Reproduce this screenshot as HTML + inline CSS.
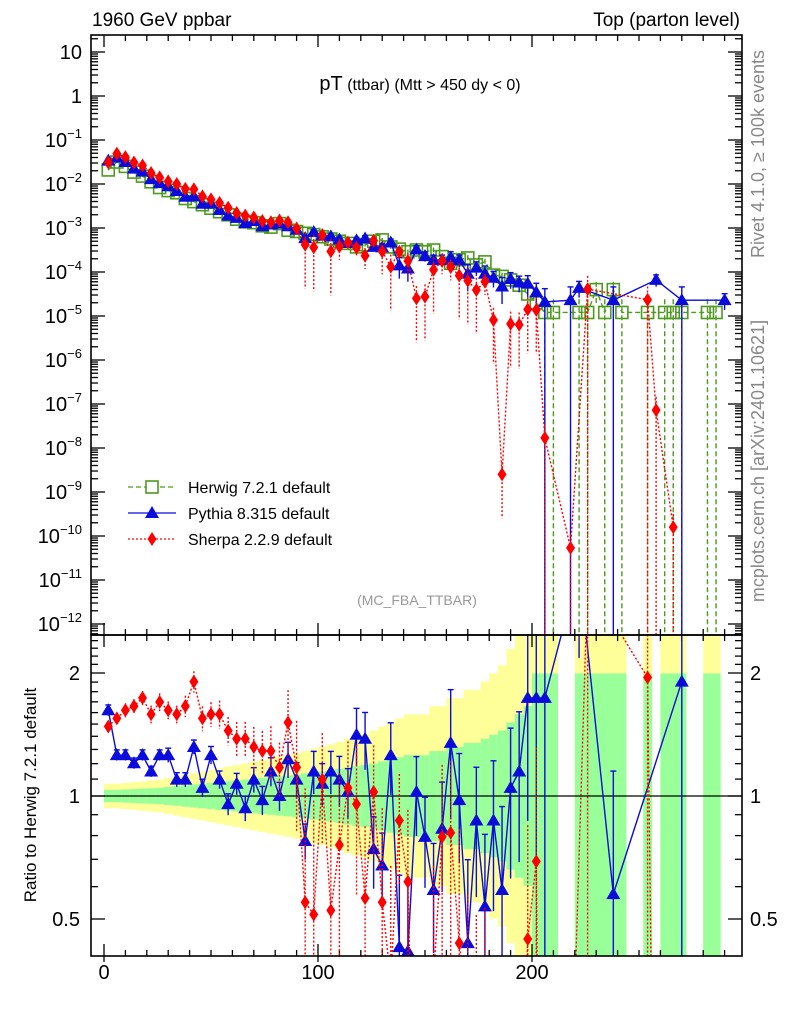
<!DOCTYPE html>
<html><head><meta charset="utf-8"><style>
html,body{margin:0;padding:0;background:#fff;width:786px;height:1024px;overflow:hidden;}
svg{display:block;font-family:"Liberation Sans",Arial,sans-serif;}
</style></head><body>
<svg id="chart" width="786" height="1024" viewBox="0 0 786 1024" xmlns="http://www.w3.org/2000/svg">
<defs>
<clipPath id="cm"><rect x="91" y="35" width="651" height="600"/></clipPath>
<clipPath id="cr"><rect x="91" y="635" width="651" height="321"/></clipPath>
</defs>
<text x="92" y="26" font-size="19">1960 GeV ppbar</text>
<text x="740" y="26" font-size="19" text-anchor="end">Top (parton level)</text>
<text x="420" y="90" text-anchor="middle"><tspan font-size="20">pT</tspan><tspan font-size="16"> (ttbar) (Mtt &gt; 450 dy &lt; 0)</tspan></text>
<text x="417" y="605" font-size="14" fill="#999" text-anchor="middle">(MC_FBA_TTBAR)</text>
<text transform="translate(764,154) rotate(-90)" font-size="18" fill="#888" text-anchor="middle">Rivet 4.1.0, ≥ 100k events</text>
<text transform="translate(764,461) rotate(-90)" font-size="18" fill="#888" text-anchor="middle">mcplots.cern.ch [arXiv:2401.10621]</text>
<text transform="translate(36,795) rotate(-90)" font-size="17" text-anchor="middle">Ratio to Herwig 7.2.1 default</text>
<g id="g-bands" clip-path="url(#cr)"></g>
<g id="g-ticks"></g>
<g id="g-main" clip-path="url(#cm)"></g>
<g id="g-ratio" clip-path="url(#cr)"></g>
<rect x="91" y="35" width="651" height="600" fill="none" stroke="#000" stroke-width="1.6"/>
<rect x="91" y="635" width="651" height="321" fill="none" stroke="#000" stroke-width="1.6"/>
<g id="g-labels"></g>
<g>
 <g>
  <line x1="128" y1="487" x2="176" y2="487" stroke="#4d9a1f" stroke-width="1.3" stroke-dasharray="5,3"/>
  <rect x="146" y="481" width="12" height="12" fill="#fff" stroke="#4d9a1f" stroke-width="1.6"/>
  <text x="188" y="493" font-size="16">Herwig 7.2.1 default</text>
 </g>
 <g>
  <line x1="128" y1="513" x2="176" y2="513" stroke="#0b0bdc" stroke-width="1.3"/>
  <polygon points="152,506 145,518 159,518" fill="#0b0bdc"/>
  <text x="188" y="519" font-size="16">Pythia 8.315 default</text>
 </g>
 <g>
  <line x1="128" y1="539" x2="176" y2="539" stroke="#f00" stroke-width="1.3" stroke-dasharray="2,2"/>
  <polygon points="152,532 156.5,539 152,546 147.5,539" fill="#f00"/>
  <text x="188" y="545" font-size="16">Sherpa 2.2.9 default</text>
 </g>
</g>
</svg>
<script>
// ---- data (log10 of dσ/dpT; null = empty bin) ----
const binCenters = [2,6,10,14,18,22,26,30,34,38,42,46,50,54,58,62,66,70,74,78,82,86,90,94,98,102,106,110,114,118,122,126,130,134,138,142,146,150,154,158,162,166,170,174,178,182,186,190,194,198,202,206,210,214,218,222,226,230,234,238,242,246,250,254,258,262,266,270,274,278,282,286,290];
const herwigLog = [-1.68,-1.5,-1.6,-1.73,-1.82,-1.95,-2.08,-2.15,-2.2,-2.33,-2.4,-2.47,-2.55,-2.63,-2.7,-2.8,-2.86,-2.88,-2.95,-2.98,-2.9,-3.05,-3.08,-3.12,-3.15,-3.2,-3.25,-3.3,-3.35,-3.43,-3.38,-3.3,-3.27,-3.43,-3.48,-3.54,-3.5,-3.54,-3.5,-3.65,-3.8,-3.72,-3.68,-3.84,-3.77,-4.07,-4.1,-4.18,-4.3,-4.5,-4.7,-4.92,-4.92,null,null,-4.92,-4.92,-4.4,-4.92,-4.4,-4.92,null,null,-4.92,null,-4.92,-4.92,-4.92,null,null,-4.92,-4.92,null];
const pythiaLog = [-1.47,-1.4,-1.5,-1.65,-1.72,-1.89,-1.98,-2.05,-2.16,-2.29,-2.28,-2.45,-2.45,-2.59,-2.72,-2.77,-2.89,-2.84,-2.96,-2.92,-2.9,-2.96,-3.04,-3.23,-3.09,-3.17,-3.19,-3.26,-3.34,-3.28,-3.24,-3.43,-3.44,-3.33,-3.85,-3.92,-3.49,-3.64,-3.73,-3.73,-3.67,-3.73,-4.04,-3.9,-4.04,-4.13,-4.33,-4.16,-4.24,-4.26,-4.46,-4.68,null,null,-4.64,-4.36,null,null,null,-4.64,null,null,null,null,-4.18,null,null,-4.64,null,null,null,null,-4.64];
const sherpaLog = [-1.51,-1.31,-1.39,-1.51,-1.58,-1.75,-1.85,-1.94,-2.0,-2.11,-2.12,-2.28,-2.35,-2.43,-2.54,-2.66,-2.72,-2.76,-2.84,-2.87,-2.83,-2.87,-3.01,-3.38,-3.44,-3.16,-3.53,-3.42,-3.33,-3.45,-3.63,-3.29,-3.53,-3.88,-3.54,-3.75,-4.6,-4.56,-3.95,-3.75,-3.89,-4.08,-4.2,-4.41,-4.22,-5.09,-8.6,-5.18,-5.2,-4.85,-4.86,-7.77,null,null,-10.27,null,-4.39,null,null,null,null,null,null,-4.63,-7.14,null,-9.8,null,null,null,null,null,null];
const relErrH = [.02,.02,.02,.02,.02,.02,.02,.03,.03,.03,.03,.03,.04,.04,.04,.04,.05,.05,.05,.05,.05,.06,.06,.06,.07,.07,.07,.08,.08,.09,.09,.1,.1,.1,.12,.12,.12,.12,.14,.14,.15,.15,.16,.16,.18,.2,.22,.25,.3,.4,.6,1,1,0,0,1,1,.5,1,.5,1,0,0,1,0,1,1,1,0,0,1,1,0];
const relErrP = [.03,.03,.03,.03,.03,.03,.03,.04,.04,.04,.04,.05,.05,.05,.06,.06,.07,.07,.08,.08,.08,.1,.1,.1,.12,.12,.12,.14,.14,.16,.16,.2,.2,.2,.5,.5,.22,.25,.3,.3,.35,.3,.6,.35,.5,.4,.6,.4,.4,.5,.6,1,0,0,1,.4,0,0,0,1,0,0,0,0,.3,0,0,1,0,0,0,0,.4];
const relErrS = [.03,.03,.04,.04,.04,.05,.05,.05,.05,.06,.06,.07,.07,.08,.08,.1,.1,.12,.12,.15,.15,.2,.3,.9,.9,.3,.9,.5,.3,.4,.5,.3,.7,.9,.3,.5,.9,.9,.9,.5,.5,.9,.9,.9,.5,.9,.9,.9,.9,.9,.9,1,0,0,1,0,1,0,0,0,0,0,0,1,1,0,1,0,0,0,0,0,0];
// herwig uncertainty bands (log10 half-widths, up / down)
const bandGreenUp = [.015,.015,.016,.017,.018,.019,.02,.022,.024,.026,.028,.03,.032,.034,.036,.038,.04,.042,.044,.046,.048,.05,.052,.055,.058,.06,.063,.066,.07,.073,.076,.08,.085,.09,.095,.1,.1,.1,.11,.11,.12,.12,.13,.13,.14,.15,.16,.18,.2,.22,.3,.3,.3,0,0,.3,.3,.3,.3,.3,.3,0,0,.3,0,.3,.3,.3,0,0,.3,.3,0];
const bandGreenDown = [.015,.015,.016,.017,.018,.019,.02,.022,.024,.026,.028,.03,.032,.034,.036,.038,.04,.042,.044,.046,.048,.05,.052,.055,.058,.06,.063,.066,.07,.073,.076,.08,.085,.09,.095,.1,.1,.1,.11,.11,.12,.12,.13,.13,.14,.15,.16,.18,.2,.22,.6,.6,.6,0,0,.6,.6,.6,.6,.6,.6,0,0,.6,0,.6,.6,.6,0,0,.6,.6,0];
const bandYellow = [.03,.03,.032,.034,.036,.038,.04,.044,.048,.052,.056,.06,.064,.068,.072,.076,.08,.084,.088,.092,.096,.1,.104,.11,.116,.12,.126,.132,.14,.146,.152,.16,.17,.18,.19,.2,.2,.2,.22,.22,.24,.24,.26,.26,.28,.3,.32,.36,.4,.44,.6,.6,.6,0,0,.6,.6,.6,.6,.6,.6,0,0,.6,0,.6,.6,.6,0,0,.6,.6,0];
const xTicks = [0,100,200];
const mainTickExps = [1,0,-1,-2,-3,-4,-5,-6,-7,-8,-9,-10,-11,-12];
const ratioTicks = [0.5,1,2];
const ratioTickLabels = ["0.5","1","2"];

const NS="http://www.w3.org/2000/svg";
const X0=104, XS=2.14, BW=4;
function xs(u){return X0+u*XS;}
function ym(lg){return 96-lg*44;}
function yr(r){return 796-Math.log10(r)*408.6;}
function mk(tag,attrs,parent){const e=document.createElementNS(NS,tag);for(const k in attrs)e.setAttribute(k,attrs[k]);parent.appendChild(e);return e;}
const gB=document.getElementById('g-bands'), gT=document.getElementById('g-ticks'), gM=document.getElementById('g-main'), gR=document.getElementById('g-ratio'), gL=document.getElementById('g-labels');

// bands
binCenters.forEach((c,i)=>{
  if(bandYellow[i]>0){
    const x1=xs(c-BW/2), x2=xs(c+BW/2);
    const yt=yr(Math.pow(10,bandYellow[i])), yb=yr(Math.pow(10,-bandYellow[i]));
    const ry=mk('rect',{x:x1,y:yt,width:x2-x1+0.3,height:yb-yt,fill:'#ffff99',stroke:'none'},gB);
    
    
    const gt=yr(Math.pow(10,bandGreenUp[i])), gb=yr(Math.pow(10,-bandGreenDown[i]));
    const rg=mk('rect',{x:x1,y:gt,width:x2-x1+0.3,height:gb-gt,fill:'#99ff99',stroke:'none'},gB);
    
    
  }
});
const one=mk('line',{x1:91,x2:742,y1:yr(1),y2:yr(1),stroke:'#000','stroke-width':1.2},gB);



// ticks
function tline(x1,y1,x2,y2,w){return mk('line',{x1,y1,x2,y2,stroke:'#000','stroke-width':w||1.3},gT);}
for(let u=0;u<=290;u+=10){
  const x=xs(u), L=(u%100===0)?12:6;
  tline(x,35,x,35+L); tline(x,635,x,635-L); tline(x,635,x,635+L); tline(x,956,x,956-L);
  if(u%100===0){tline(x,956,x,962);}
}
for(let d=-13;d<=1;d++){
  for(let m=1;m<=9;m++){
    const y=ym(d+Math.log10(m)); if(y<36||y>634) continue;
    const L=(m===1)?14:7;
    tline(91,y,91+L,y); tline(742,y,742-L,y);
  }
}
const rv=[0.5,0.6,0.7,0.8,0.9,1,1.1,1.2,1.3,1.4,1.5,1.6,1.7,1.8,1.9,2,2.1,2.2,2.3,2.4,2.5];
rv.forEach(r=>{const y=yr(r); if(y<636||y>955)return; const L=(r===0.5||r===1||r===2)?14:7; tline(91,y,91+L,y); tline(742,y,742-L,y);});

// labels
xTicks.forEach(u=>{
  const t=mk('text',{x:xs(u),y:979,'font-size':20,'text-anchor':'middle'},gL); t.textContent=String(u);
  
  
});
mainTickExps.forEach(e=>{
  const y=ym(e)+7;
  const t=mk('text',{x:82,y:y,'font-size':20,'text-anchor':'end'},gL);
  
  
  if(e===1){t.textContent='10';}
  else if(e===0){t.textContent='1';}
  else{
    const a=mk('tspan',{},t); a.textContent='10';
    const b=mk('tspan',{'font-size':13,dy:-9},t); b.textContent='−'+(-e);
  }
});
ratioTicks.forEach((r,i)=>{
  const y=yr(r)+7;
  const t=mk('text',{x:80,y:y,'font-size':20,'text-anchor':'end'},gL); t.textContent=ratioTickLabels[i];
  
  
  const t2=mk('text',{x:750,y:y,'font-size':20},gL); t2.textContent=ratioTickLabels[i];
  
  
});

// series
const series=[
 {name:'herwig',vals:herwigLog,err:relErrH,color:'#4d9a1f',dash:'5,3',marker:'square'},
 {name:'pythia',vals:pythiaLog,err:relErrP,color:'#0b0bdc',dash:'',marker:'tri'},
 {name:'sherpa',vals:sherpaLog,err:relErrS,color:'#ff0000',dash:'2,2',marker:'diamond'}
];
function marker(type,x,y,color,g){
  let e;
  if(type==='square') e=mk('rect',{x:x-6,y:y-6,width:12,height:12,fill:'none',stroke:color,'stroke-width':1.6},g);
  else if(type==='tri') e=mk('polygon',{points:`${x},${y-7} ${x-7},${y+5} ${x+7},${y+5}`,fill:color},g);
  else e=mk('polygon',{points:`${x},${y-7} ${x+4.5},${y} ${x},${y+7} ${x-4.5},${y}`,fill:color},g);
  return e;
}
function drawSeries(s,g,getY,getVal,bottomY,isRatio){
  const pts=[];
  binCenters.forEach((c,i)=>{const v=getVal(i); if(v!==null) pts.push([xs(c),getY(v),i,v]);});
  pts.forEach(p=>{
    const i=p[2], e=s.err[i]; if(!e) return;
    let yUp, yDn;
    if(isRatio){yUp=yr(p[3]*(1+e)); yDn=e>=1?bottomY:yr(p[3]*(1-e));}
    else{yUp=ym(p[3]+Math.log10(1+e)); yDn=e>=1?bottomY:ym(p[3]+Math.log10(1-e));}
    const l=mk('line',{x1:p[0],x2:p[0],y1:yUp,y2:yDn,stroke:s.color,'stroke-width':1.4},g);
    if(s.dash) l.setAttribute('stroke-dasharray',s.dash);
    
    
    if(s.name==='pythia'){mk('line',{x1:p[0]-3,x2:p[0]+3,y1:yUp,y2:yUp,stroke:s.color,'stroke-width':1.4},g);}
  });
  const pl=mk('polyline',{points:pts.map(p=>p[0]+','+p[1]).join(' '),fill:'none',stroke:s.color,'stroke-width':1.4},g);
  if(s.dash) pl.setAttribute('stroke-dasharray',s.dash);
  
  
  pts.forEach(p=>{
    const m=marker(s.marker,p[0],p[1],s.color,g);
    
    
  });
}
series.forEach(s=>{
  drawSeries(s,gM,ym,i=>s.vals[i],645,false);
});
series.slice(1).forEach(s=>{
  drawSeries(s,gR,yr,i=>(s.vals[i]===null||herwigLog[i]===null)?null:Math.pow(10,s.vals[i]-herwigLog[i]),966,true);
});
</script>
</body></html>
